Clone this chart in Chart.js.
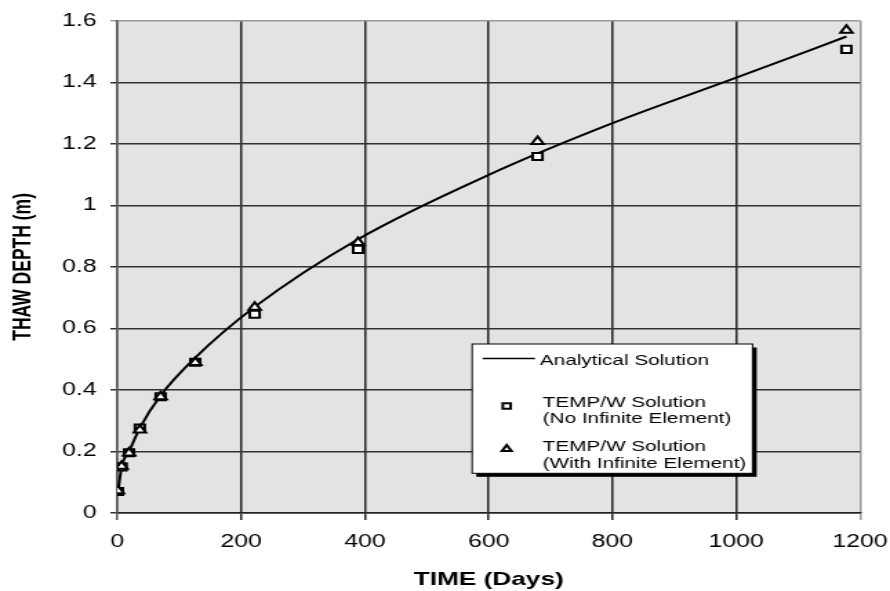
<!DOCTYPE html>
<html>
<head>
<meta charset="utf-8">
<title>Thaw depth vs time</title>
<script src="https://cdn.jsdelivr.net/npm/chart.js"></script>
<style>
  html, body { margin: 0; padding: 0; background: #fff; overflow: hidden; }
  #chart { display: block; }
</style>
</head>
<body>
<!-- the original figure is stretched sideways, so draw narrow and show wide -->
<canvas id="chart" width="645" height="591" style="width:890px;height:591px"></canvas>
<script>
// Analytical solution (line)
const analyticalTime = [1, 7, 19, 36.5, 70, 126, 222, 389, 600, 800, 1000, 1178];
const analyticalDepth = [0.065, 0.15, 0.2, 0.277, 0.382, 0.505, 0.67, 0.89, 1.099, 1.267, 1.415, 1.549];

// TEMP/W results
const tempwTime = [1, 7, 19, 36.5, 70, 126, 222, 389, 679, 1178];
const noInfiniteDepth = [0.07, 0.15, 0.196, 0.276, 0.378, 0.49, 0.646, 0.857, 1.159, 1.507];
const withInfiniteDepth = [0.072, 0.152, 0.195, 0.27, 0.378, 0.489, 0.669, 0.879, 1.208, 1.569];

// Axis ticks
const xTicks = [0, 200, 400, 600, 800, 1000, 1200];
const yTicks = [0, 0.2, 0.4, 0.6, 0.8, 1, 1.2, 1.4, 1.6];

const toPoints = (xs, ys) => xs.map((x, i) => ({x: x, y: ys[i]}));

Chart.defaults.font.family = "'Liberation Sans', Arial, sans-serif";
Chart.defaults.color = '#000';

// grey plot area
const plotBackground = {
    id: 'plotBackground',
    beforeDraw(chart) {
        const {ctx, chartArea: a} = chart;
        ctx.save();
        ctx.fillStyle = '#e3e3e3';
        ctx.fillRect(a.left, a.top, a.right - a.left, a.bottom - a.top);
        ctx.restore();
    }
};

// boxed legend with drop shadow, multi-line labels
const boxLegend = {
    id: 'boxLegend',
    afterDatasetsDraw(chart) {
        const ctx = chart.ctx;
        const box = {x: 342.2, y: 344, w: 203.2, h: 129.3};
        ctx.save();
        ctx.fillStyle = '#000';
        ctx.fillRect(box.x + 3, box.y + 3.5, box.w, box.h);
        ctx.fillStyle = '#fff';
        ctx.fillRect(box.x, box.y, box.w, box.h);
        ctx.strokeStyle = '#000';
        ctx.lineWidth = 1;
        ctx.strokeRect(box.x, box.y, box.w, box.h);

        const rows = [
            {symX: 368.7, symY: 358.5, textX: 391.3, lineY: [360.5]},
            {symX: 367.2, symY: 406, textX: 393.3, lineY: [402.7, 419.3]},
            {symX: 367.2, symY: 449, textX: 393.3, lineY: [447.3, 464]}
        ];
        ctx.font = "15px 'Liberation Sans', Arial, sans-serif";
        ctx.textAlign = 'left';
        ctx.textBaseline = 'middle';
        rows.forEach((r, i) => {
            const ds = chart.data.datasets[i];
            ctx.strokeStyle = '#000';
            if (i === 0) {
                ctx.lineWidth = 1.5;
                ctx.beginPath();
                ctx.moveTo(349.8, r.symY);
                ctx.lineTo(387.7, r.symY);
                ctx.stroke();
            } else {
                ctx.fillStyle = '#fff';
                ctx.lineWidth = 2;
                Chart.helpers.drawPoint(ctx, {
                    pointStyle: ds.pointStyle, radius: 4, borderWidth: 2, rotation: 0
                }, r.symX, r.symY);
            }
            ctx.fillStyle = '#000';
            ds.label.split('\n').forEach((txt, k) => ctx.fillText(txt, r.textX, r.lineY[k]));
        });
        ctx.restore();
    }
};

const xGridColor = c => c.tick && c.tick.value === 1200 ? '#999' : (c.tick && c.tick.value === 0 ? '#555' : '#222');
const yGridColor = c => c.tick && c.tick.value === 1.6 ? '#999' : '#333';

new Chart(document.getElementById('chart'), {
    type: 'scatter',
    data: {
        datasets: [{
            label: 'Analytical Solution',
            data: toPoints(analyticalTime, analyticalDepth),
            showLine: true,
            borderColor: '#000',
            borderWidth: 2,
            pointRadius: 0,
            cubicInterpolationMode: 'monotone',
            order: 3
        }, {
            label: 'TEMP/W Solution\n(No Infinite Element)',
            data: toPoints(tempwTime, noInfiniteDepth),
            pointStyle: 'rect',
            pointRadius: 5,
            borderWidth: 2,
            borderColor: '#000',
            backgroundColor: '#fff',
            order: 2
        }, {
            label: 'TEMP/W Solution\n(With Infinite Element)',
            data: toPoints(tempwTime, withInfiniteDepth),
            pointStyle: 'triangle',
            pointRadius: 5,
            borderWidth: 2,
            borderColor: '#000',
            backgroundColor: '#fff',
            order: 1
        }]
    },
    options: {
        responsive: false,
        animation: false,
        devicePixelRatio: 1,
        layout: {padding: {top: 14.7, right: 21.7, left: 0, bottom: 0}},
        plugins: {
            legend: {display: false},
            tooltip: {enabled: false}
        },
        scales: {
            x: {
                type: 'linear',
                min: 0,
                max: 1200,
                afterBuildTicks: s => { s.ticks = xTicks.map(v => ({value: v})); },
                afterFit: s => {
                    s.height = 78;
                    // let the layout padding alone decide the right edge
                    s.paddingLeft = 0;
                    s.paddingRight = 0;
                },
                ticks: {padding: 11, font: {size: 18}, color: '#000', callback: v => String(v)},
                grid: {color: xGridColor, tickColor: xGridColor, lineWidth: 1.5, tickWidth: 1.5, tickLength: 7},
                border: {color: '#222', width: 1.5},
                title: {
                    display: true,
                    text: 'TIME (Days)',
                    font: {size: 19, weight: 'bold'},
                    color: '#000',
                    padding: {top: 0, bottom: 0}
                }
            },
            y: {
                min: 0,
                max: 1.6,
                afterBuildTicks: s => { s.ticks = yTicks.map(v => ({value: v})); },
                afterFit: s => { s.width = 85; },
                ticks: {padding: 10, font: {size: 18}, color: '#000', callback: v => String(v)},
                grid: {color: yGridColor, tickColor: yGridColor, lineWidth: 1.5, tickWidth: 1.5, tickLength: 5},
                border: {color: '#555', width: 1.5},
                title: {
                    display: true,
                    text: 'THAW DEPTH (m)',
                    font: {size: 17.5, weight: 'bold'},
                    color: '#000',
                    padding: {top: 7, bottom: 0}
                }
            }
        }
    },
    plugins: [plotBackground, boxLegend]
});
</script>
</body>
</html>
